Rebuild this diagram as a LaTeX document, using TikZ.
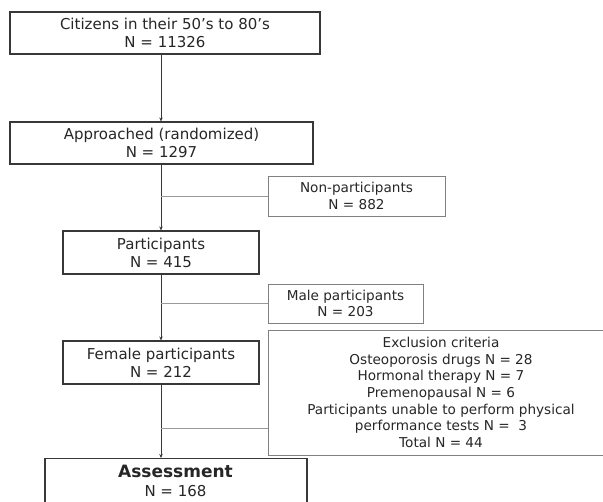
\documentclass[tikz,border=0pt]{standalone}
\usepackage{fontspec}
\setmainfont{DejaVu Sans}
\usetikzlibrary{arrows.meta}
\begin{document}
\begin{tikzpicture}[x=1pt,y=-1pt,
  mainbox/.style={draw=black!78,line width=1.1pt,align=center,inner sep=0pt,font=\fontsize{15}{18}\selectfont,text=black!85},
  sidebox/.style={draw=black!50,line width=0.9pt,align=center,inner sep=0pt,font=\fontsize{13.6}{16.4}\selectfont,text=black!85},
  arr/.style={draw=black!78,line width=0.9pt,-{Stealth[length=4pt,width=3.5pt]}},
  sideline/.style={draw=black!40,line width=0.9pt}]
\useasboundingbox (0,0) rectangle (603,502);
\node[mainbox,minimum width=310,minimum height=42] (b1) at (165,33) {Citizens in their 50’s to 80’s\\N = 11326};
\node[mainbox,minimum width=303,minimum height=42] (b2) at (161.5,143) {Approached (randomized)\\N = 1297};
\node[sidebox,minimum width=177,minimum height=40] (np) at (356.5,196) {Non-participants\\N = 882};
\node[mainbox,minimum width=196,minimum height=43] (p) at (161,252.5) {Participants\\N = 415};
\node[sidebox,minimum width=155,minimum height=39] (m) at (345.5,303.5) {Male participants\\N = 203};
\node[mainbox,minimum width=196,minimum height=43] (f) at (161,362.5) {Female participants\\N = 212};
\node[sidebox,minimum width=346,minimum height=125,font=\fontsize{13.6}{16.7}\selectfont] (ex) at (441,392.5) {Exclusion criteria\\Osteoporosis drugs N = 28\\Hormonal therapy N = 7\\Premenopausal N = 6\\Participants unable to perform physical\\performance tests N =~~3\\Total N = 44};
\node[mainbox,minimum width=262,minimum height=50,anchor=north] (a) at (176,458) {};
\node[font=\fontsize{17}{20}\selectfont\bfseries,text=black!85,anchor=base] (at) at (175.5,477.3) {Assessment};
\node[font=\fontsize{15}{18}\selectfont,text=black!85,anchor=base] (an) at (175.5,496.7) {N = 168};
\draw[arr] (b1.south -| p) -- (b2.north -| p);
\draw[arr] (b2.south -| p) -- (p.north);
\draw[arr] (p.south) -- (f.north);
\draw[arr] (f.south) -- (a.north -| p);
\draw[sideline] (np.west -| p) -- (np.west);
\draw[sideline] (m.west -| p) -- (m.west);
\coordinate (exj) at (161,428);
\draw[sideline] (exj) -- (exj -| ex.west);
\end{tikzpicture}
\end{document}
